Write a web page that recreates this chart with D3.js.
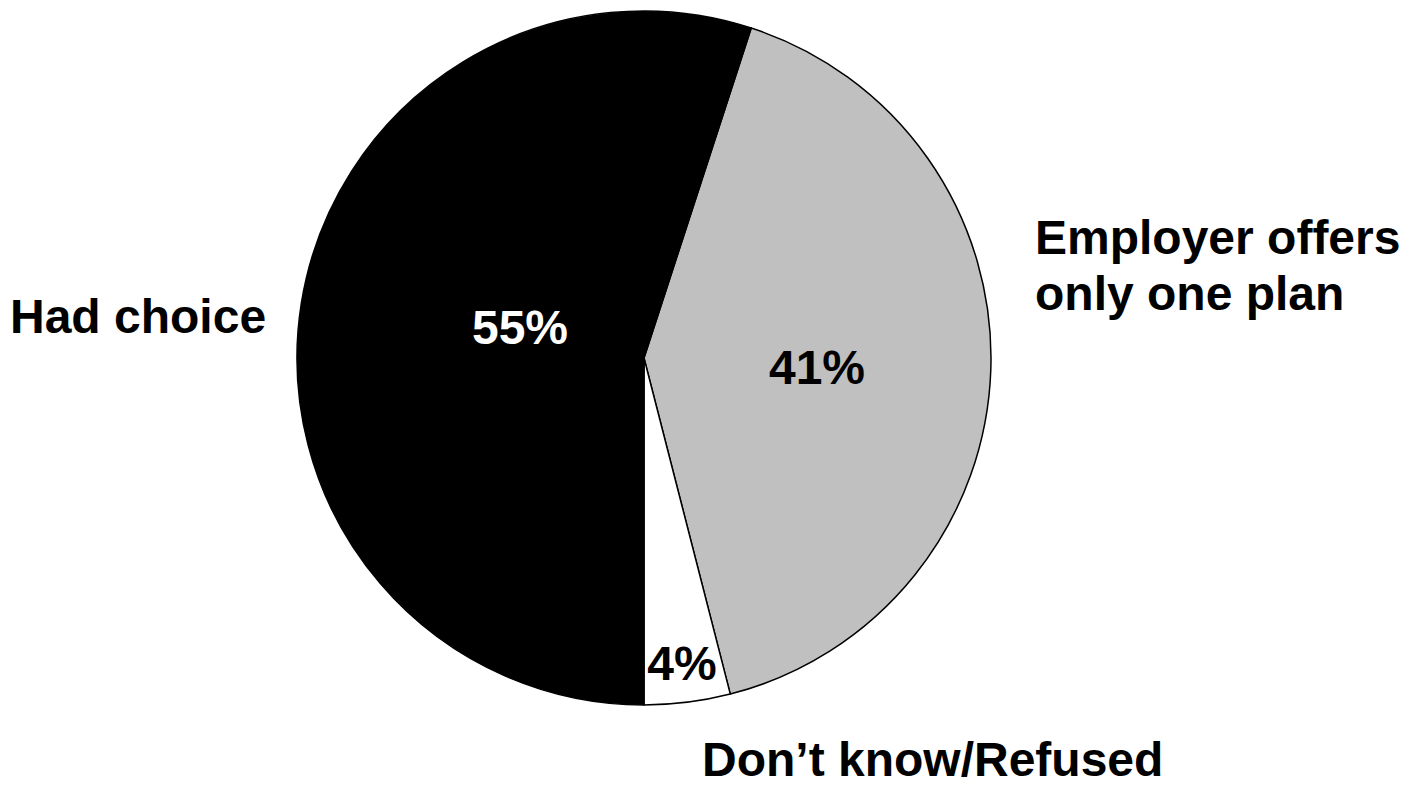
<!DOCTYPE html>
<html>
<head>
<meta charset="utf-8">
<script src="https://cdn.jsdelivr.net/npm/d3@7"></script>
<style>
  html, body { margin: 0; padding: 0; background: #fff; }
  svg { display: block; }
  text { font-family: "Liberation Sans", Arial, sans-serif; font-weight: bold; }
</style>
</head>
<body>
<svg id="chart" width="1413" height="787"></svg>
<script>
// Data (order drawn clockwise starting just right of 12 o'clock)
const categories = ["Employer offers only one plan", "Don\u2019t know/Refused", "Had choice"];
const values = [41, 4, 55];
const valueLabels = ["41%", "4%", "55%"];
const colors = ["#C0C0C0", "#FFFFFF", "#000000"];
const labelColors = ["#000000", "#000000", "#FFFFFF"];

const svg = d3.select("#chart");
const cx = 644, cy = 358, r = 347;

// start angle chosen so that the black slice ends exactly at 6 o'clock boundary
const total = d3.sum(values);
const startDeg = 180 - (values[0] + values[1]) / total * 360;
const startA = startDeg * Math.PI / 180;

const pie = d3.pie().sort(null).value(d => d)
  .startAngle(startA).endAngle(startA + 2 * Math.PI);
const arcs = pie(values);
const arc = d3.arc().innerRadius(0).outerRadius(r);

const g = svg.append("g").attr("transform", `translate(${cx},${cy})`);
g.selectAll("path.slice").data(arcs).enter().append("path")
  .attr("class", "slice")
  .attr("d", arc)
  .attr("fill", (d, i) => colors[i])
  .attr("stroke", "#000")
  .attr("stroke-width", 1.5)
  .attr("stroke-linejoin", "round");

// value labels inside slices
const valuePos = [[817, 384], [682, 680], [520, 344]];
svg.selectAll("text.val").data(arcs).enter().append("text")
  .attr("class", "val")
  .attr("x", (d, i) => valuePos[i][0])
  .attr("y", (d, i) => valuePos[i][1])
  .attr("text-anchor", "middle")
  .attr("font-size", 48)
  .attr("fill", (d, i) => labelColors[i])
  .text((d, i) => valueLabels[i]);

// category labels
const catLines = [["Employer offers", "only one plan"], ["Don\u2019t know/Refused"], ["Had choice"]];
const catPos = [[1035, 254], [702, 776], [10, 333]];
catLines.forEach((lines, i) => {
  const t = svg.append("text")
    .attr("x", catPos[i][0]).attr("y", catPos[i][1])
    .attr("font-size", 48).attr("fill", "#000");
  lines.forEach((ln, j) => {
    t.append("tspan").attr("x", catPos[i][0]).attr("dy", j === 0 ? 0 : 56).text(ln);
  });
});
</script>
</body>
</html>
